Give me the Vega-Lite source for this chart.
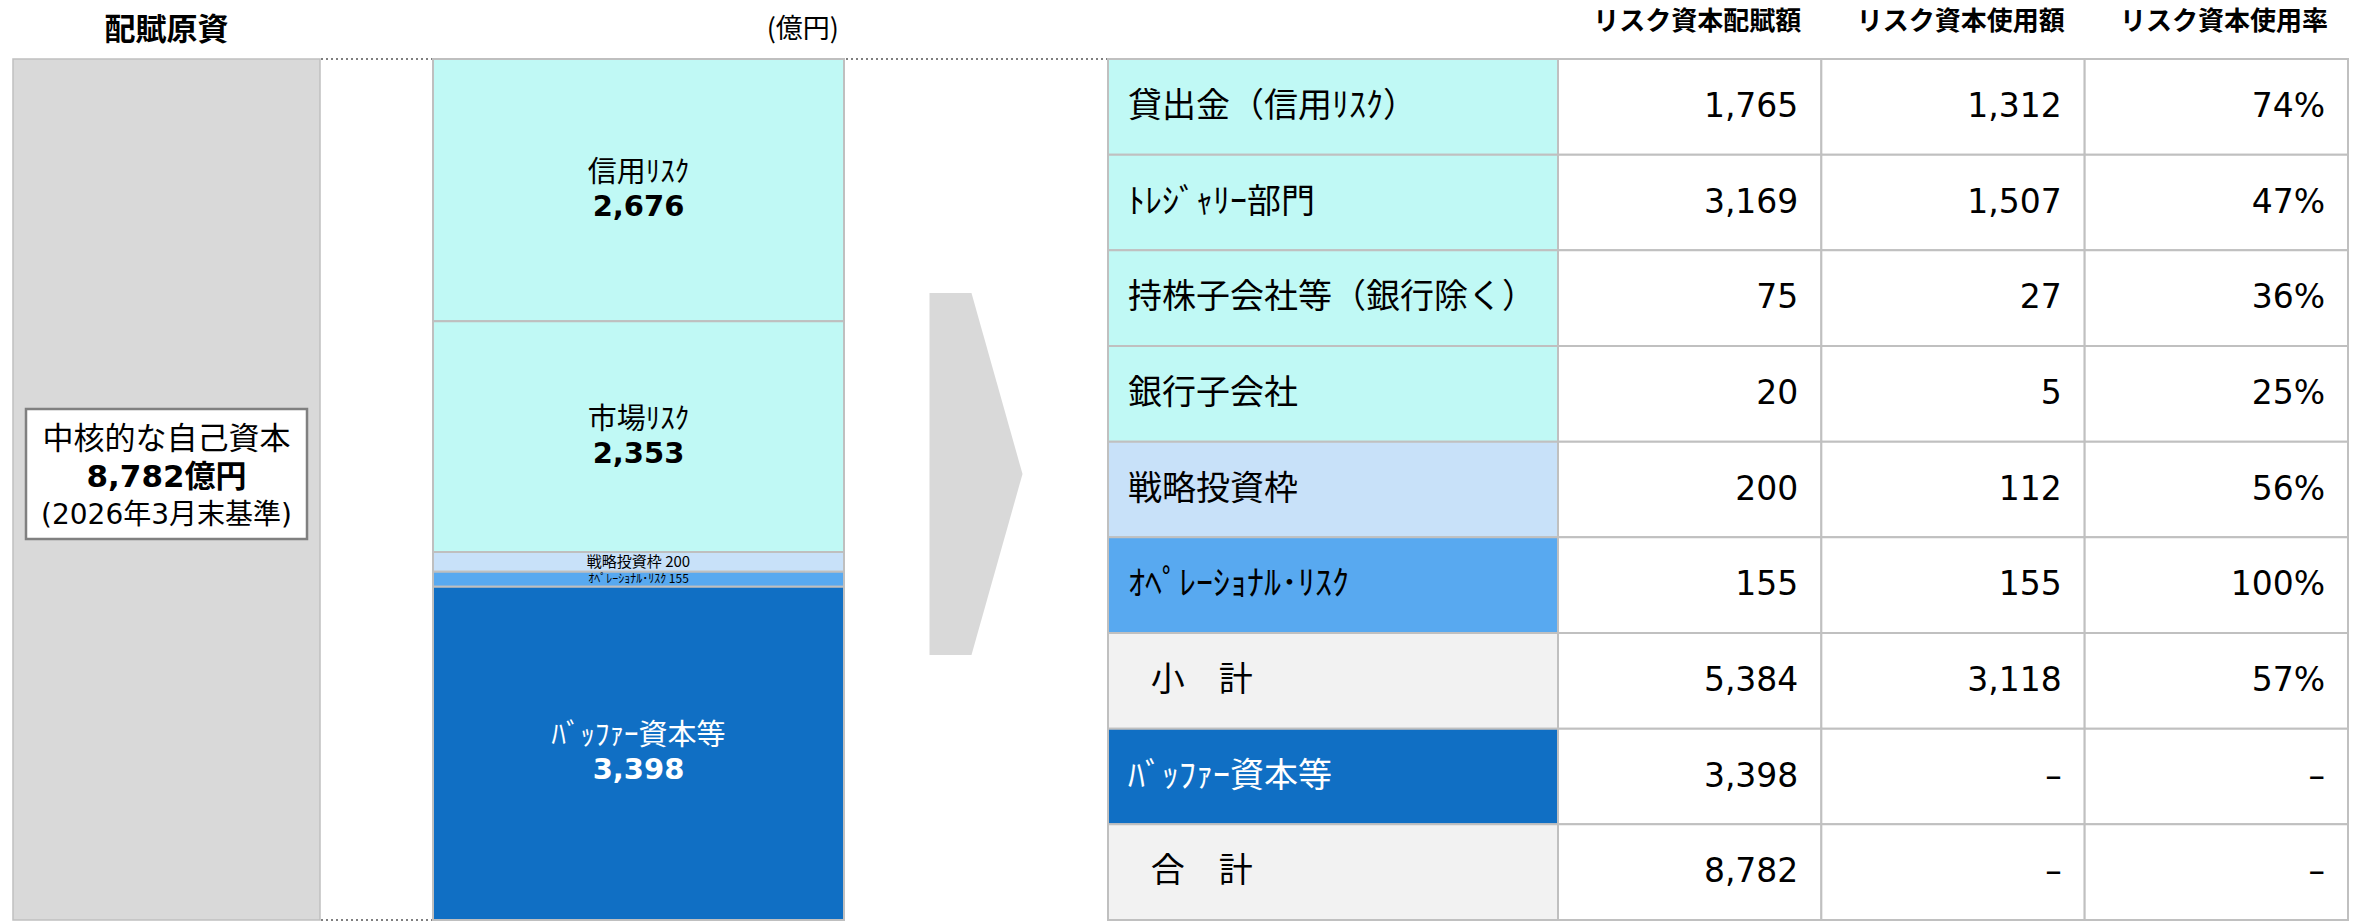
{
  "$schema": "https://vega.github.io/schema/vega-lite/v6.json",
  "background": "white",
  "padding": {"left": 12, "top": 8, "right": 0, "bottom": 0},
  "autosize": {"type": "pad"},
  "bounds": "flush",
  "spacing": 0,
  "config": {
    "font": "Noto Sans CJK JP",
    "view": {"stroke": null},
    "concat": {"spacing": 0},
    "title": {"color": "black"}
  },
  "datasets": {
    "core": [
      {"label": "中核的な自己資本", "value": 8782, "basis": "(2026年3月末基準)"}
    ],
    "frame": [
      {"edge": "top", "v": 8782},
      {"edge": "bottom", "v": 0}
    ],
    "bar": [
      {"seg": "信用ﾘｽｸ", "grp": "risk", "value": 2676, "ord": 5},
      {"seg": "市場ﾘｽｸ", "grp": "risk", "value": 2353, "ord": 4},
      {"seg": "戦略投資枠", "grp": "strategic", "value": 200, "ord": 3},
      {"seg": "ｵﾍﾟﾚｰｼｮﾅﾙ･ﾘｽｸ", "grp": "operational", "value": 155, "ord": 2},
      {"seg": "ﾊﾞｯﾌｧｰ資本等", "grp": "buffer", "value": 3398, "ord": 1}
    ],
    "table": [
      {"item": "貸出金（信用ﾘｽｸ）", "grp": "risk", "alloc": 1765, "used": 1312, "rate": 0.74},
      {"item": "ﾄﾚｼﾞｬﾘｰ部門", "grp": "risk", "alloc": 3169, "used": 1507, "rate": 0.47},
      {"item": "持株子会社等（銀行除く）", "grp": "risk", "alloc": 75, "used": 27, "rate": 0.36},
      {"item": "銀行子会社", "grp": "risk", "alloc": 20, "used": 5, "rate": 0.25},
      {"item": "戦略投資枠", "grp": "strategic", "alloc": 200, "used": 112, "rate": 0.56},
      {"item": "ｵﾍﾟﾚｰｼｮﾅﾙ･ﾘｽｸ", "grp": "operational", "alloc": 155, "used": 155, "rate": 1.0},
      {"item": "\u200b\u00a0\u00a0\u00a0小　計", "grp": "total", "alloc": 5384, "used": 3118, "rate": 0.57},
      {"item": "ﾊﾞｯﾌｧｰ資本等", "grp": "buffer", "alloc": 3398, "used": null, "rate": null},
      {"item": "\u200b\u00a0\u00a0\u00a0合　計", "grp": "total", "alloc": 8782, "used": null, "rate": null}
    ]
  },
  "hconcat": [
    {
      "width": 307,
      "height": 861,
      "view": {"fill": "#d9d9d9", "stroke": "#c0c0c0", "strokeWidth": 1.5},
      "title": {"text": "配賦原資", "fontSize": 31, "fontWeight": "bold", "anchor": "middle", "offset": 12},
      "data": {"name": "core"},
      "layer": [
        {
          "mark": {"type": "point", "shape": "M-1,-0.4626H1V0.4626H-1Z", "size": 78961, "filled": true, "fill": "white", "stroke": "#808080", "strokeWidth": 2.5, "opacity": 1, "fillOpacity": 1, "strokeOpacity": 1, "yOffset": -15.5},
          "encoding": {}
        },
        {
          "mark": {"type": "text", "fontSize": 31, "dy": -49.5, "baseline": "middle", "color": "black"},
          "encoding": {"text": {"field": "label"}}
        },
        {
          "transform": [{"calculate": "format(datum.value, ',') + '億円'", "as": "valueLabel"}],
          "mark": {"type": "text", "fontSize": 31, "fontWeight": "bold", "font": "DejaVu Sans, Noto Sans CJK JP", "dy": -11.5, "baseline": "middle", "color": "black"},
          "encoding": {"text": {"field": "valueLabel"}}
        },
        {
          "mark": {"type": "text", "fontSize": 28, "font": "DejaVu Sans, Noto Sans CJK JP", "dy": 26.5, "baseline": "middle", "color": "black"},
          "encoding": {"text": {"field": "basis"}}
        }
      ]
    },
    {
      "width": 113,
      "height": 861,
      "data": {"name": "frame"},
      "mark": {"type": "rule", "strokeDash": [2, 3], "color": "#7f7f7f", "strokeWidth": 2},
      "encoding": {
        "y": {"field": "v", "type": "quantitative", "scale": {"domain": [0, 8782], "nice": false}, "axis": null}
      }
    },
    {
      "width": 411,
      "height": 861,
      "title": {"text": "(億円)", "fontSize": 27, "fontWeight": "normal", "anchor": "end", "offset": 14, "dx": -6},
      "data": {"name": "bar"},
      "transform": [
        {"stack": "value", "groupby": [], "sort": [{"field": "ord", "order": "ascending"}], "as": ["v0", "v1"]},
        {"calculate": "(datum.v0 + datum.v1) / 2", "as": "mid"}
      ],
      "layer": [
        {
          "mark": {"type": "rect", "stroke": "#bfbfbf", "strokeWidth": 2},
          "encoding": {
            "y": {"field": "v0", "type": "quantitative", "scale": {"domain": [0, 8782], "nice": false, "zero": true}, "axis": null},
            "y2": {"field": "v1"},
            "fill": {"field": "grp", "type": "nominal", "scale": {"domain": ["risk", "strategic", "operational", "buffer", "total"], "range": ["#c0f9f5", "#c8e1f9", "#58a9f0", "#106fc4", "#f2f2f2"]}, "legend": null}
          }
        },
        {
          "transform": [{"filter": "datum.value >= 1000"}],
          "mark": {"type": "text", "fontSize": 29, "dy": -17, "baseline": "middle"},
          "encoding": {
            "y": {"field": "mid", "type": "quantitative"},
            "text": {"field": "seg"},
            "color": {"condition": {"test": "datum.grp === 'buffer'", "value": "white"}, "value": "black"}
          }
        },
        {
          "transform": [{"filter": "datum.value >= 1000"}],
          "mark": {"type": "text", "fontSize": 29, "fontWeight": "bold", "font": "DejaVu Sans", "dy": 17, "baseline": "middle"},
          "encoding": {
            "y": {"field": "mid", "type": "quantitative"},
            "text": {"field": "value", "format": ","},
            "color": {"condition": {"test": "datum.grp === 'buffer'", "value": "white"}, "value": "black"}
          }
        },
        {
          "transform": [
            {"filter": "datum.value < 1000"},
            {"calculate": "datum.seg + '  ' + format(datum.value, ',')", "as": "line"}
          ],
          "mark": {"type": "text", "baseline": "middle", "color": "black", "font": "Noto Sans CJK JP"},
          "encoding": {
            "y": {"field": "mid", "type": "quantitative"},
            "text": {"field": "line"},
            "size": {"condition": {"test": "datum.value < 180", "value": 12}, "value": 15}
          }
        }
      ]
    },
    {
      "width": 264,
      "height": 861,
      "layer": [
        {
          "data": {"name": "frame"},
          "transform": [{"filter": "datum.edge === 'top'"}],
          "mark": {"type": "rule", "strokeDash": [2, 3], "color": "#7f7f7f", "strokeWidth": 2},
          "encoding": {
            "y": {"field": "v", "type": "quantitative", "scale": {"domain": [0, 8782], "nice": false}, "axis": null}
          }
        },
        {
          "data": {"name": "core"},
          "mark": {"type": "point", "shape": "M-0.257,-1L-0.025,-1L0.257,0L-0.025,1L-0.257,1Z", "size": 131044, "filled": true, "color": "#d9d9d9", "opacity": 1, "yOffset": -15.5},
          "encoding": {}
        }
      ]
    },
    {
      "width": 450,
      "height": 861,
      "data": {"name": "table"},
      "encoding": {
        "y": {"field": "item", "type": "nominal", "sort": null, "scale": {"paddingInner": 0, "paddingOuter": 0}, "axis": null}
      },
      "layer": [
        {
          "mark": {"type": "rect", "stroke": "#c0c0c0", "strokeWidth": 2},
          "encoding": {
            "fill": {"field": "grp", "type": "nominal", "scale": {"domain": ["risk", "strategic", "operational", "buffer", "total"], "range": ["#c0f9f5", "#c8e1f9", "#58a9f0", "#106fc4", "#f2f2f2"]}, "legend": null}
          }
        },
        {
          "mark": {"type": "text", "align": "left", "baseline": "middle", "fontSize": 34, "dx": 20},
          "encoding": {
            "x": {"datum": 0, "type": "quantitative", "scale": {"domain": [0, 1]}, "axis": null},
            "text": {"field": "item"},
            "color": {"condition": {"test": "datum.grp === 'buffer'", "value": "white"}, "value": "black"}
          }
        }
      ]
    },
    {
      "width": 790,
      "height": 861,
      "data": {"name": "table"},
      "transform": [
        {"calculate": "format(datum.alloc, ',')", "as": "リスク資本配賦額"},
        {"calculate": "datum.used == null ? '–' : format(datum.used, ',')", "as": "リスク資本使用額"},
        {"calculate": "datum.rate == null ? '–' : format(datum.rate, '.0%')", "as": "リスク資本使用率"},
        {"fold": ["リスク資本配賦額", "リスク資本使用額", "リスク資本使用率"], "as": ["col", "txt"]}
      ],
      "encoding": {
        "y": {"field": "item", "type": "nominal", "sort": null, "scale": {"paddingInner": 0, "paddingOuter": 0}, "axis": null},
        "x": {
          "field": "col", "type": "nominal", "sort": null,
          "scale": {"paddingInner": 0, "paddingOuter": 0},
          "axis": {"orient": "top", "title": null, "domain": false, "ticks": false, "grid": false, "labelAngle": 0, "labelFontSize": 26, "labelFontWeight": "bold", "labelAlign": "right", "labelOffset": 111.7, "labelPadding": 25, "labelColor": "black", "labelLimit": 0}
        }
      },
      "layer": [
        {
          "mark": {"type": "rect", "fill": "white", "stroke": "#c0c0c0", "strokeWidth": 2}
        },
        {
          "mark": {"type": "text", "align": "right", "baseline": "middle", "fontSize": 33, "font": "DejaVu Sans, Noto Sans CJK JP", "dx": 108.7, "color": "black"},
          "encoding": {"text": {"field": "txt"}}
        }
      ]
    }
  ]
}
